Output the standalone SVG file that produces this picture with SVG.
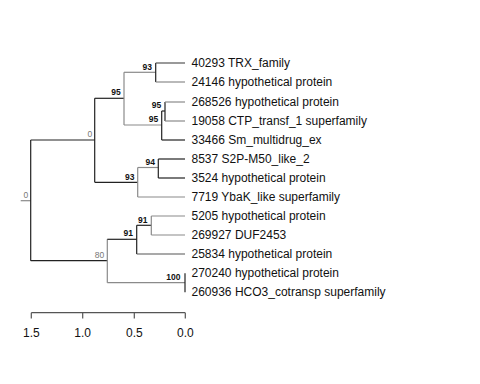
<svg xmlns="http://www.w3.org/2000/svg" width="480" height="384" viewBox="0 0 480 384">
<style>
.d{stroke:#222;stroke-width:1.2;fill:none}
.g{stroke:#8a8a8a;stroke-width:1.2;fill:none}
.m{stroke:#555;stroke-width:1.2;fill:none}
.leaf{font-family:"Liberation Sans",Arial,sans-serif;font-size:12px;fill:#111}
.bs{font-family:"Liberation Sans",Arial,sans-serif;font-size:8.5px;font-weight:bold;fill:#111;text-anchor:end}
.bg{font-family:"Liberation Sans",Arial,sans-serif;font-size:8.5px;fill:#777;text-anchor:end}
.ax{font-family:"Liberation Sans",Arial,sans-serif;font-size:12px;fill:#111;text-anchor:middle}
</style>
<rect width="480" height="384" fill="#fff"/>
<g id="connectors">
<!-- root -->
<line class="g" x1="20.7" y1="200.7" x2="30.7" y2="200.7"/>
<line class="d" x1="30.7" y1="140" x2="30.7" y2="260.7"/>
<line class="d" x1="30.7" y1="140" x2="94.7" y2="140"/>
<line class="d" x1="30.7" y1="260.7" x2="107.3" y2="260.7"/>
<!-- node 0 -->
<line class="d" x1="94.7" y1="98.3" x2="94.7" y2="182.3"/>
<line class="d" x1="94.7" y1="98.3" x2="124" y2="98.3"/>
<line class="d" x1="94.7" y1="182.3" x2="137.7" y2="182.3"/>
<!-- node 95 top -->
<line class="g" x1="124" y1="72.3" x2="124" y2="125"/>
<line class="g" x1="124" y1="72.3" x2="155.7" y2="72.3"/>
<line class="g" x1="124" y1="125" x2="161.7" y2="125"/>
<!-- node 93 -->
<line class="d" x1="155.7" y1="63" x2="155.7" y2="82"/>
<line class="m" x1="155.7" y1="63" x2="185" y2="63"/>
<line class="g" x1="155.7" y1="82" x2="185" y2="82"/>
<!-- node 95 lower -->
<line class="d" x1="161.7" y1="111" x2="161.7" y2="140"/>
<line class="d" x1="161.7" y1="111" x2="165" y2="111"/>
<line class="d" x1="161.7" y1="140" x2="185" y2="140"/>
<!-- node 95 inner -->
<line class="d" x1="165" y1="102" x2="165" y2="121"/>
<line class="g" x1="165" y1="102" x2="185" y2="102"/>
<line class="g" x1="165" y1="121" x2="185" y2="121"/>
<!-- node 93 mid -->
<line class="g" x1="137.7" y1="167.5" x2="137.7" y2="197"/>
<line class="g" x1="137.7" y1="167.5" x2="158.3" y2="167.5"/>
<line class="g" x1="137.7" y1="197" x2="185" y2="197"/>
<!-- node 94 -->
<line class="d" x1="158.3" y1="159" x2="158.3" y2="178"/>
<line class="d" x1="158.3" y1="159" x2="185" y2="159"/>
<line class="d" x1="158.3" y1="178" x2="185" y2="178"/>
<!-- node 80 -->
<line class="g" x1="107.3" y1="239.3" x2="107.3" y2="282.7"/>
<line class="d" x1="107.3" y1="239.3" x2="136.7" y2="239.3"/>
<line class="g" x1="107.3" y1="282.7" x2="185" y2="282.7"/>
<!-- node 91 outer -->
<line class="d" x1="136.7" y1="225.3" x2="136.7" y2="254"/>
<line class="d" x1="136.7" y1="225.3" x2="151.3" y2="225.3"/>
<line class="m" x1="136.7" y1="254" x2="185" y2="254"/>
<!-- node 91 inner -->
<line class="g" x1="151.3" y1="216" x2="151.3" y2="235"/>
<line class="g" x1="151.3" y1="216" x2="185" y2="216"/>
<line class="g" x1="151.3" y1="235" x2="185" y2="235"/>
<!-- node 100 -->
<line class="d" x1="185" y1="273.3" x2="185" y2="292.3"/>
</g>
<g id="support-labels">
<text class="bs" x="152" y="69.8">93</text>
<text class="bs" x="120.8" y="95.3">95</text>
<text class="bs" x="161.3" y="108">95</text>
<text class="bs" x="158.3" y="122">95</text>
<text class="bg" x="92.2" y="137.3">0</text>
<text class="bs" x="155" y="164.7">94</text>
<text class="bs" x="134.5" y="179.7">93</text>
<text class="bg" x="28.3" y="197.8">0</text>
<text class="bs" x="147.5" y="222.6">91</text>
<text class="bs" x="133" y="236.3">91</text>
<text class="bg" x="104.3" y="258.3">80</text>
<text class="bs" x="180.5" y="280">100</text>
</g>
<g id="leaf-40293"><text class="leaf" x="191.5" y="67.3">40293 TRX_family</text></g>
<g id="leaf-24146"><text class="leaf" x="191.5" y="86.3">24146 hypothetical protein</text></g>
<g id="leaf-268526"><text class="leaf" x="191.5" y="106.3">268526 hypothetical protein</text></g>
<g id="leaf-19058"><text class="leaf" x="191.5" y="125.3">19058 CTP_transf_1 superfamily</text></g>
<g id="leaf-33466"><text class="leaf" x="191.5" y="144.3">33466 Sm_multidrug_ex</text></g>
<g id="leaf-8537"><text class="leaf" x="191.5" y="163.3">8537 S2P-M50_like_2</text></g>
<g id="leaf-3524"><text class="leaf" x="191.5" y="182.3">3524 hypothetical protein</text></g>
<g id="leaf-7719"><text class="leaf" x="191.5" y="201.3">7719 YbaK_like superfamily</text></g>
<g id="leaf-5205"><text class="leaf" x="191.5" y="220.3">5205 hypothetical protein</text></g>
<g id="leaf-269927"><text class="leaf" x="191.5" y="239.3">269927 DUF2453</text></g>
<g id="leaf-25834"><text class="leaf" x="191.5" y="258.3">25834 hypothetical protein</text></g>
<g id="leaf-270240"><text class="leaf" x="191.5" y="277.3">270240 hypothetical protein</text></g>
<g id="leaf-260936"><text class="leaf" x="191.5" y="296.3">260936 HCO3_cotransp superfamily</text></g>
<g id="scale-bar">
<path class="m" d="M31.3,312.7H185.3M31.3,312.7V318.5M82.7,312.7V318.5M134.3,312.7V318.5M185.3,312.7V318.5"/>
<text class="ax" x="31.3" y="337">1.5</text>
<text class="ax" x="82.7" y="337">1.0</text>
<text class="ax" x="134.3" y="337">0.5</text>
<text class="ax" x="185.3" y="337">0.0</text>
</g>
</svg>
